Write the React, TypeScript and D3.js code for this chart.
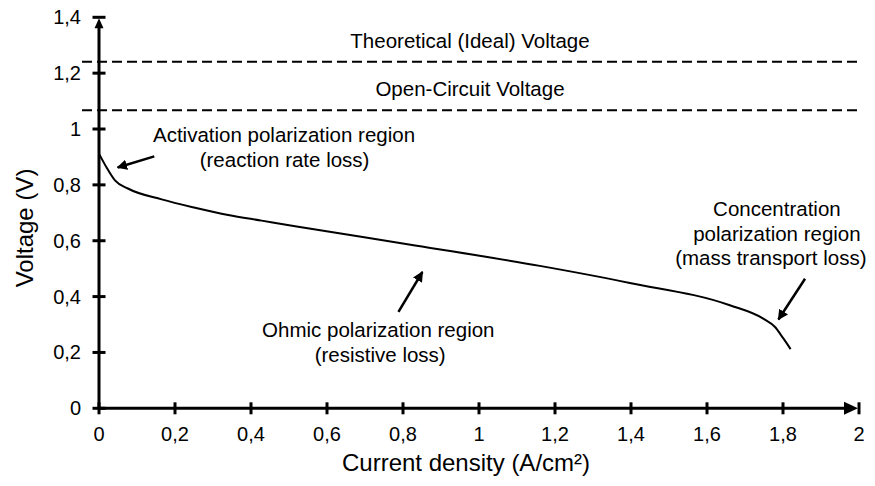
import React from "react";
import * as d3 from "d3";

const W = 875;
const H = 486;

// Polarization curve (current density A/cm², voltage V)
const currentDensity = [0, 0.02, 0.042, 0.076, 0.165, 0.253, 0.34, 0.428, 0.516, 0.832, 1.16, 1.397, 1.66, 1.748, 1.779, 1.8, 1.82];
const voltage = [0.912, 0.862, 0.816, 0.787, 0.748, 0.718, 0.692, 0.672, 0.652, 0.583, 0.51, 0.449, 0.369, 0.321, 0.291, 0.252, 0.212];

const xTicks = [0, 0.2, 0.4, 0.6, 0.8, 1, 1.2, 1.4, 1.6, 1.8, 2];
const yTicks = [0, 0.2, 0.4, 0.6, 0.8, 1, 1.2, 1.4];

const referenceLines = [
  { label: "Theoretical (Ideal) Voltage", value: 1.241 },
  { label: "Open-Circuit Voltage", value: 1.067 },
];

const annotationTexts = [
  { lines: ["Activation polarization region", "(reaction rate loss)"], x: [0.142, 0.265], y: 0.953, anchor: "start" },
  { lines: ["Ohmic polarization region", "(resistive loss)"], x: [0.735, 0.74], y: 0.254, anchor: "middle" },
  { lines: ["Concentration", "polarization region", "(mass transport loss)"], x: [1.784, 1.784, 1.768], y: 0.688, anchor: "middle" },
];

const arrows = [
  { from: [0.1455, 0.902], to: [0.049, 0.862] },
  { from: [0.788, 0.345], to: [0.851, 0.488] },
  { from: [1.858, 0.464], to: [1.788, 0.318] },
];

const fmt = (v: number) => String(v).replace(".", ",");

export default function App() {
  const x = d3.scaleLinear().domain([0, 2]).range([99, 859]);
  const y = d3.scaleLinear().domain([0, 1.4]).range([408.3, 17.3]);
  const line = d3
    .line<number>()
    .x((_, i) => x(currentDensity[i]))
    .y((d) => y(d))
    .curve(d3.curveMonotoneX);
  const font = "'Liberation Sans', Arial, sans-serif";
  const lineH = 24.5;

  return (
    <svg width={W} height={H} style={{ position: "absolute", left: 0, top: 0, background: "#fff" }} fontFamily={font}>
      <defs>
        <marker id="ah" viewBox="0 0 10 10" refX="9" refY="5" markerWidth="4.2" markerHeight="4.2" orient="auto" markerUnits="strokeWidth">
          <path d="M0,0 L10,5 L0,10 z" fill="#000" />
        </marker>
      </defs>
      {/* reference dashed lines */}
      {referenceLines.map((r) => (
        <line key={r.label} x1={82} x2={862} y1={y(r.value)} y2={y(r.value)} stroke="#000" strokeWidth={2} strokeDasharray="10 5" />
      ))}
      {referenceLines.map((r) => (
        <text key={r.label + "t"} x={470} y={y(r.value) - 14} textAnchor="middle" fontSize={20.5} fill="#000">
          {r.label}
        </text>
      ))}
      {/* axes */}
      <line x1={x(0)} x2={x(0)} y1={y(0)} y2={y(1.4) + 6} stroke="#000" strokeWidth={3} />
      <path d={`M${x(0)},${y(1.4) + 1} L${x(0) - 4.5},${y(1.4) + 11} L${x(0) + 4.5},${y(1.4) + 11} Z`} fill="#000" />
      <line x1={x(0) - 1.5} x2={x(2) - 10} y1={y(0)} y2={y(0)} stroke="#000" strokeWidth={3} />
      <path d={`M${x(2) - 1},${y(0)} L${x(2) - 15},${y(0) - 6.5} L${x(2) - 15},${y(0) + 6.5} Z`} fill="#000" />
      {yTicks.map((t) => (
        <g key={"y" + t}>
          <line x1={x(0) - 6.5} x2={x(0) + 6.5} y1={y(t)} y2={y(t)} stroke="#000" strokeWidth={3} />
          <text x={81} y={y(t) + 7} textAnchor="end" fontSize={20} fill="#000">
            {fmt(t)}
          </text>
        </g>
      ))}
      {xTicks.map((t) => (
        <g key={"x" + t}>
          <line x1={x(t)} x2={x(t)} y1={y(0) - 6} y2={y(0) + 6} stroke="#000" strokeWidth={3} />
          <text x={x(t)} y={441} textAnchor="middle" fontSize={20} fill="#000">
            {fmt(t)}
          </text>
        </g>
      ))}
      <text x={466} y={471} textAnchor="middle" fontSize={24} fill="#000">
        Current density (A/cm²)
      </text>
      <text transform={`translate(33,228) rotate(-90)`} textAnchor="middle" fontSize={24} fill="#000">
        Voltage (V)
      </text>
      {/* curve */}
      <path d={line(voltage) || ""} fill="none" stroke="#000" strokeWidth={2} />
      {/* annotations */}
      {annotationTexts.map((a, k) =>
        a.lines.map((l, i) => (
          <text key={k + "-" + i} x={x(a.x[i])} y={y(a.y) + i * lineH} textAnchor={a.anchor as any} fontSize={20.5} fill="#000">
            {l}
          </text>
        ))
      )}
      {arrows.map((a, k) => (
        <line key={"a" + k} x1={x(a.from[0])} y1={y(a.from[1])} x2={x(a.to[0])} y2={y(a.to[1])} stroke="#000" strokeWidth={2.5} markerEnd="url(#ah)" />
      ))}
    </svg>
  );
}
